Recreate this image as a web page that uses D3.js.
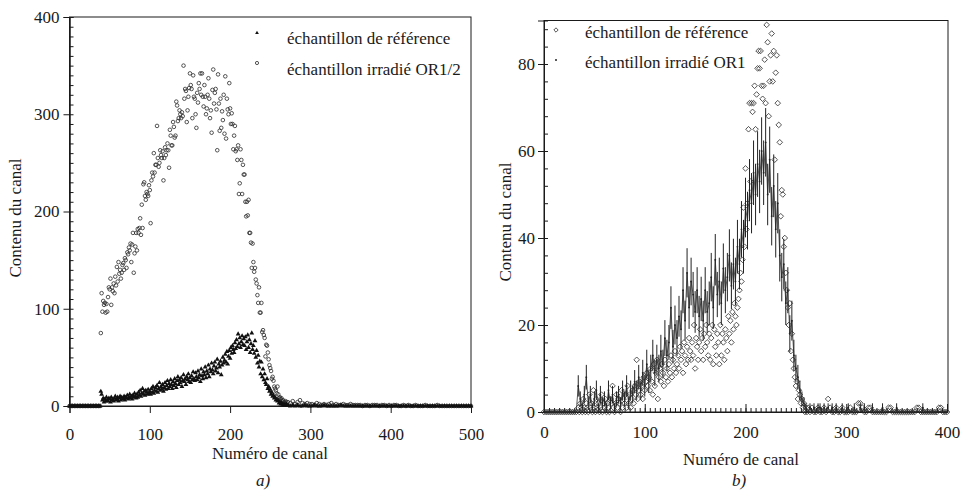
<!DOCTYPE html>
<html><head><meta charset="utf-8">
<script src="https://cdn.jsdelivr.net/npm/d3@7"></script>
<style>
body{margin:0;background:#fff}
svg text{font-family:"Liberation Serif","Times New Roman",Tinos,Times,"DejaVu Serif",serif;fill:#1a1a1a}
</style>
</head><body>
<svg id="c" width="963" height="490"></svg>
<script>
// ---------------- Panel a) ----------------
const leftXTicks = [0, 100, 200, 300, 400, 500];
const leftYTicks = [0, 100, 200, 300, 400];
const leftLegend = ["échantillon de référence", "échantillon irradié OR1/2"];

const leftChLow  = d3.range(0, 38, 2);      // channels 0..36
const leftChMain = d3.range(38, 271);       // channels 38..270
const leftChTail = d3.range(272, 501, 3);   // channels 272..500

const leftRefLow = [0,0,0,0,0,0,0,0,0,0,0,0,0,0,0,0,0,0,0];
const leftIrrLow = [0,0,0,0,0,0,0,0,0,0,0,0,0,0,0,0,0,0,0];

// reference sample (triangles), channels 38..270
const leftRefMain = [
 0,15,12,6,8,4,7,5,9,6,
 5,8,7,4,9,6,7,5,8,10,
 6,7,9,5,8,10,6,9,7,8,
 10,6,9,8,11,7,9,12,8,10,
 7,11,9,13,10,8,12,9,14,11,
 16,10,13,18,12,15,11,16,14,12,
 17,13,15,12,18,14,20,13,16,19,
 15,21,14,18,24,16,20,17,22,15,
 19,24,17,21,26,18,23,20,27,22,
 18,25,21,28,23,19,26,30,22,27,
 24,29,20,26,32,25,28,22,30,27,
 33,25,29,24,31,27,35,28,26,34,
 30,27,36,29,32,25,38,31,28,35,
 32,40,29,36,33,42,30,38,35,44,
 37,33,41,45,36,39,48,34,43,40,
 46,32,42,50,44,47,53,45,56,43,
 51,57,49,60,54,62,58,55,65,59,
 68,61,74,64,70,60,66,72,63,69,
 62,71,58,66,73,60,68,55,64,75,
 58,62,54,67,50,57,44,52,40,46,
 33,45,30,38,27,33,24,22,28,18,
 20,15,17,12,14,10,11,8,9,6,
 7,5,6,3,4,2,3,2,1,2,
 1,1,2];
// irradiated sample OR1/2 (circles), channels 38..270
const leftIrrMain = [
 0,75,116,97,108,104,106,96,105,97,
 112,122,120,131,104,122,118,126,116,133,
 124,143,128,148,136,140,131,137,145,147,
 140,152,150,142,158,156,163,160,167,148,
 166,178,137,157,164,178,160,182,178,183,
 193,176,207,183,228,230,216,212,220,218,
 216,227,222,188,232,240,236,260,240,248,
 248,288,255,246,250,263,258,255,262,232,
 255,266,258,263,270,263,245,284,278,268,
 268,292,287,276,278,313,309,293,296,304,
 300,296,302,298,350,316,326,324,292,304,
 318,327,342,330,326,296,340,318,316,300,
 286,322,312,332,326,342,320,342,318,308,
 330,318,300,306,320,337,316,296,304,281,
 325,346,311,322,326,305,263,341,311,283,
 316,286,303,294,320,280,339,275,316,305,
 300,332,306,290,301,290,264,278,288,262,
 264,253,268,218,229,264,253,218,248,238,
 238,210,195,210,196,212,178,178,168,142,
 167,148,138,142,130,126,114,106,122,96,
 96,106,76,78,73,70,51,63,62,55,
 48,42,39,36,28,30,26,20,18,16,
 13,20,12,8,9,7,8,5,6,4,
 3,5,4];
const leftRefTail = [
 1,0,1,0,1,0,0,1,0,0,
 0,1,0,0,0,1,0,0,0,0,
 0,0,1,0,0,0,0,0,0,0,
 0,0,0,0,0,0,0,0,0,0,
 0,0,0,0,0,0,0,0,0,0,
 0,0,0,0,0,0,0,0,0,0,
 0,0,0,0,0,0,0,0,0,0,
 0,0,0,0,0,0,0];
const leftIrrTail = [
 4,3,5,2,4,6,3,2,3,2,
 2,1,3,2,1,2,1,2,3,1,
 2,1,1,2,1,1,2,1,1,1,
 1,0,1,1,0,1,1,1,0,1,
 1,0,1,0,1,1,0,0,1,0,
 1,0,0,1,0,0,0,1,0,0,
 0,0,1,0,0,0,0,0,0,0,
 0,0,0,0,0,0,0];

// ---------------- Panel b) ----------------
const rightXTicks = [0, 100, 200, 300, 400];
const rightYTicks = [0, 20, 40, 60, 80];
const rightLegend = ["échantillon de référence", "échantillon irradié OR1"];

const rightChLow   = d3.range(0, 34, 2);     // 0..32
const rightChMain  = d3.range(34, 263);      // 34..262 (diamonds)
const rightChLine  = d3.range(34, 263, 2);   // 34..262 step 2 (line)
const rightChTail  = d3.range(264, 401, 2);  // 264..400

const rightDiaLow  = [0,0,0,0,0,0,0,0,0,0,0,0,0,0,0,0,0];
const rightLineLow = [0,0,0,0,0,0,0,0,0,0,0,0,0,0,0,0,0];

// diamonds, channels 34..262
const rightDiaMain = [
 1,0,2,1,0,3,1,0,2,1,
 0,4,1,2,0,5,1,0,3,1,
 2,0,1,4,0,2,1,3,0,2,
 1,0,3,2,6,1,0,2,4,1,
 3,2,0,5,1,3,2,4,1,6,
 2,4,1,3,5,2,6,4,12,3,
 5,7,4,6,3,8,5,7,9,6,
 8,5,10,7,4,11,6,9,12,3,
 8,10,7,11,9,6,12,8,10,7,
 11,9,13,8,12,10,14,9,11,13,
 10,15,12,14,9,16,13,11,15,12,
 17,14,12,16,13,20,10,17,15,12,
 16,19,14,17,12,18,15,20,16,13,
 18,12,17,20,11,19,15,13,18,16,
 11,20,13,18,16,12,19,17,14,22,
 18,21,16,23,19,25,22,20,24,26,
 28,32,30,35,47,38,56,42,48,65,
 71,53,71,69,71,75,65,73,79,83,
 79,83,75,72,75,81,71,89,85,68,
 76,82,87,76,83,58,78,82,71,66,
 62,45,51,50,38,40,32,28,24,20,
 25,14,18,12,10,8,6,7,3,5,
 4,2,3,1,2,0,1,0,1];
// line with error bars, channels 34..262 step 2
const rightLineMain = [
 6,3,1,4,8,2,4,1,3,5,
 1,4,2,3,1,5,2,4,1,3,
 4,2,5,3,6,2,5,4,7,5,
 8,5,9,6,11,7,10,13,9,12,
 10,14,11,17,13,16,24,15,20,17,
 22,19,28,21,32,24,30,27,23,28,
 22,26,21,28,23,25,31,24,35,27,
 30,25,33,28,31,36,29,34,30,38,
 34,42,38,47,44,51,48,55,50,57,
 53,60,55,62,50,58,45,52,42,48,
 36,31,34,25,28,18,21,13,10,8,
 5,3,2,1,0];
const rightDiaTail = [
 0,1,0,0,1,0,0,1,0,3,
 1,0,0,1,0,0,1,0,0,0,
 1,0,0,0,2,2,1,0,0,1,
 1,0,0,0,0,0,0,0,0,1,
 1,0,0,0,0,0,0,0,0,0,
 0,0,0,1,1,0,0,0,0,0,
 0,0,0,0,1,1,0,0,0];
const rightLineTail = [
 1,0,1,0,1,1,0,1,0,1,
 0,1,0,1,0,0,1,0,0,1,
 0,0,1,0,0,1,0,1,0,0,
 0,1,0,0,0,0,1,0,0,0,
 0,0,0,1,0,0,0,0,0,0,
 0,0,0,0,0,0,1,0,0,0,
 0,0,0,0,0,0,0,0,0];

// ---------------- helpers ----------------
function zip(chs, vals){
  const out=[];
  chs.forEach((c,i)=>{ if(vals[i]!==undefined) out.push({x:c,y:vals[i]}); });
  return out;
}
const leftRef = [].concat(zip(leftChLow,leftRefLow), zip(leftChMain,leftRefMain), zip(leftChTail,leftRefTail));
const leftIrr = [].concat(zip(leftChLow,leftIrrLow), zip(leftChMain,leftIrrMain), zip(leftChTail,leftIrrTail));
const rightDia = [].concat(zip(rightChLow,rightDiaLow), zip(rightChMain,rightDiaMain), zip(rightChTail,rightDiaTail));
const rightLine = [].concat(zip(rightChLow,rightLineLow), zip(rightChLine,rightLineMain), zip(rightChTail,rightLineTail));

const svg = d3.select("#c");
const FS = 17;
const ink = "#1a1a1a";
const FONT = '"Liberation Serif","Times New Roman",Tinos,Times,"DejaVu Serif",serif';

function styleAxis(g){
  g.attr("font-family", FONT).attr("font-size", FS);
  g.selectAll("path.domain").attr("stroke", ink).attr("stroke-width", 1);
  g.selectAll(".tick line").attr("stroke", ink).attr("stroke-width", 1);
  g.selectAll("text").attr("font-size", FS).attr("fill", ink).attr("font-family", FONT);
}
function txt(g, x, y, s, anchor, extra){
  const t = g.append("text").attr("x",x).attr("y",y).attr("font-size",FS)
    .attr("font-family",FONT).attr("fill",ink).attr("text-anchor",anchor||"start").text(s);
  if(extra) extra(t);
  return t;
}

// ---------------- draw panel a ----------------
{
  const x = d3.scaleLinear([0,500],[69.5,471]);
  const y = d3.scaleLinear([0,400],[406,17]);
  const g = svg.append("g");
  g.append("rect").attr("x",x(0)).attr("y",y(400)).attr("width",x(500)-x(0)).attr("height",y(0)-y(400))
    .attr("fill","none").attr("stroke",ink).attr("stroke-width",1);
  g.append("g").attr("transform",`translate(${x(0)},0)`)
    .call(d3.axisLeft(y).tickValues(d3.range(0,401,10)).tickSize(-4).tickFormat(""))
    .call(styleAxis);
  g.append("g").attr("transform",`translate(${x(0)},0)`)
    .call(d3.axisLeft(y).tickValues(leftYTicks).tickSize(6).tickPadding(4).tickFormat(d3.format("d")))
    .call(styleAxis);
  g.append("g").attr("transform",`translate(0,${y(0)})`)
    .call(d3.axisBottom(x).tickValues(leftXTicks).tickSize(7).tickPadding(15).tickFormat(d3.format("d")))
    .call(styleAxis);

  g.append("g").selectAll("circle").data(leftIrr).join("circle")
    .attr("cx",d=>x(d.x)).attr("cy",d=>y(d.y)).attr("r",1.8)
    .attr("fill","none").attr("stroke","#2a2a2a").attr("stroke-width",0.8);
  const tri = d3.symbol(d3.symbolTriangle, 10);
  g.append("g").selectAll("path").data(leftRef).join("path")
    .attr("d",tri).attr("transform",d=>`translate(${x(d.x)},${y(d.y)})`).attr("fill","#111");

  g.append("path").attr("d",d3.symbol(d3.symbolTriangle,6)).attr("transform","translate(257,33)").attr("fill","#111");
  g.append("circle").attr("cx",257).attr("cy",63).attr("r",1.6).attr("fill","none").attr("stroke","#2a2a2a").attr("stroke-width",0.8);
  txt(g, 287, 44, leftLegend[0]);
  txt(g, 287, 75, leftLegend[1]);

  txt(g, 270, 459, "Numéro de canal", "middle");
  txt(g, 0, 0, "Contenu du canal", "middle", t=>t.attr("x",null).attr("y",null).attr("transform","translate(21,218) rotate(-90)"));
  txt(g, 263, 486, "a)", "middle", t=>t.attr("font-style","italic"));
}

// ---------------- draw panel b ----------------
{
  const x = d3.scaleLinear([0,400],[544,947]);
  const y = d3.scaleLinear([0,90],[412,20.5]);
  const g = svg.append("g");
  g.append("rect").attr("x",x(0)).attr("y",y(90)).attr("width",948-x(0)).attr("height",y(0)-y(90))
    .attr("fill","none").attr("stroke",ink).attr("stroke-width",1);
  g.append("g").attr("transform",`translate(${x(0)},0)`)
    .call(d3.axisLeft(y).tickValues(d3.range(0,90,4)).tickSize(-4).tickFormat(""))
    .call(styleAxis);
  g.append("g").attr("transform",`translate(${x(0)},0)`)
    .call(d3.axisLeft(y).tickValues(rightYTicks).tickSize(6).tickPadding(3).tickFormat(d3.format("d")))
    .call(styleAxis);
  g.append("g").attr("transform",`translate(0,${y(0)})`)
    .call(d3.axisBottom(x).tickValues(d3.range(0,401,5)).tickSize(-4).tickFormat(""))
    .call(styleAxis);
  g.append("g").attr("transform",`translate(0,${y(0)})`)
    .call(d3.axisBottom(x).tickValues(rightXTicks).tickSize(-8).tickPadding(14).tickFormat(d3.format("d")))
    .call(styleAxis);

  // line with Poisson error bars (sqrt of counts)
  g.append("path").datum(rightLine).attr("d",d3.line().x(d=>x(d.x)).y(d=>y(d.y)))
    .attr("fill","none").attr("stroke","#333").attr("stroke-width",0.8);
  g.append("g").selectAll("line").data(rightLine.filter(d=>d.y>0)).join("line")
    .attr("x1",d=>x(d.x)).attr("x2",d=>x(d.x))
    .attr("y1",d=>y(d.y-Math.sqrt(d.y))).attr("y2",d=>y(d.y+Math.sqrt(d.y)))
    .attr("stroke","#222").attr("stroke-width",1);
  g.append("g").selectAll("circle").data(rightLine).join("circle")
    .attr("cx",d=>x(d.x)).attr("cy",d=>y(d.y)).attr("r",0.9).attr("fill","#222");

  const dia = d3.symbol(d3.symbolDiamond2, 20);
  g.append("g").selectAll("path").data(rightDia).join("path")
    .attr("d",dia).attr("transform",d=>`translate(${x(d.x)},${y(d.y)})`)
    .attr("fill","none").attr("stroke","#2a2a2a").attr("stroke-width",0.8);

  g.append("path").attr("d",d3.symbol(d3.symbolDiamond2,12)).attr("transform","translate(556,30)")
    .attr("fill","none").attr("stroke","#2a2a2a").attr("stroke-width",0.8);
  g.append("circle").attr("cx",556).attr("cy",60).attr("r",1).attr("fill","#222");
  txt(g, 585, 38, rightLegend[0]);
  txt(g, 585, 68, rightLegend[1]);

  txt(g, 741, 465, "Numéro de canal", "middle");
  txt(g, 0, 0, "Contenu du canal", "middle", t=>t.attr("x",null).attr("y",null).attr("transform","translate(511,222) rotate(-90)"));
  txt(g, 739, 486, "b)", "middle", t=>t.attr("font-style","italic"));
}
</script>
</body></html>
